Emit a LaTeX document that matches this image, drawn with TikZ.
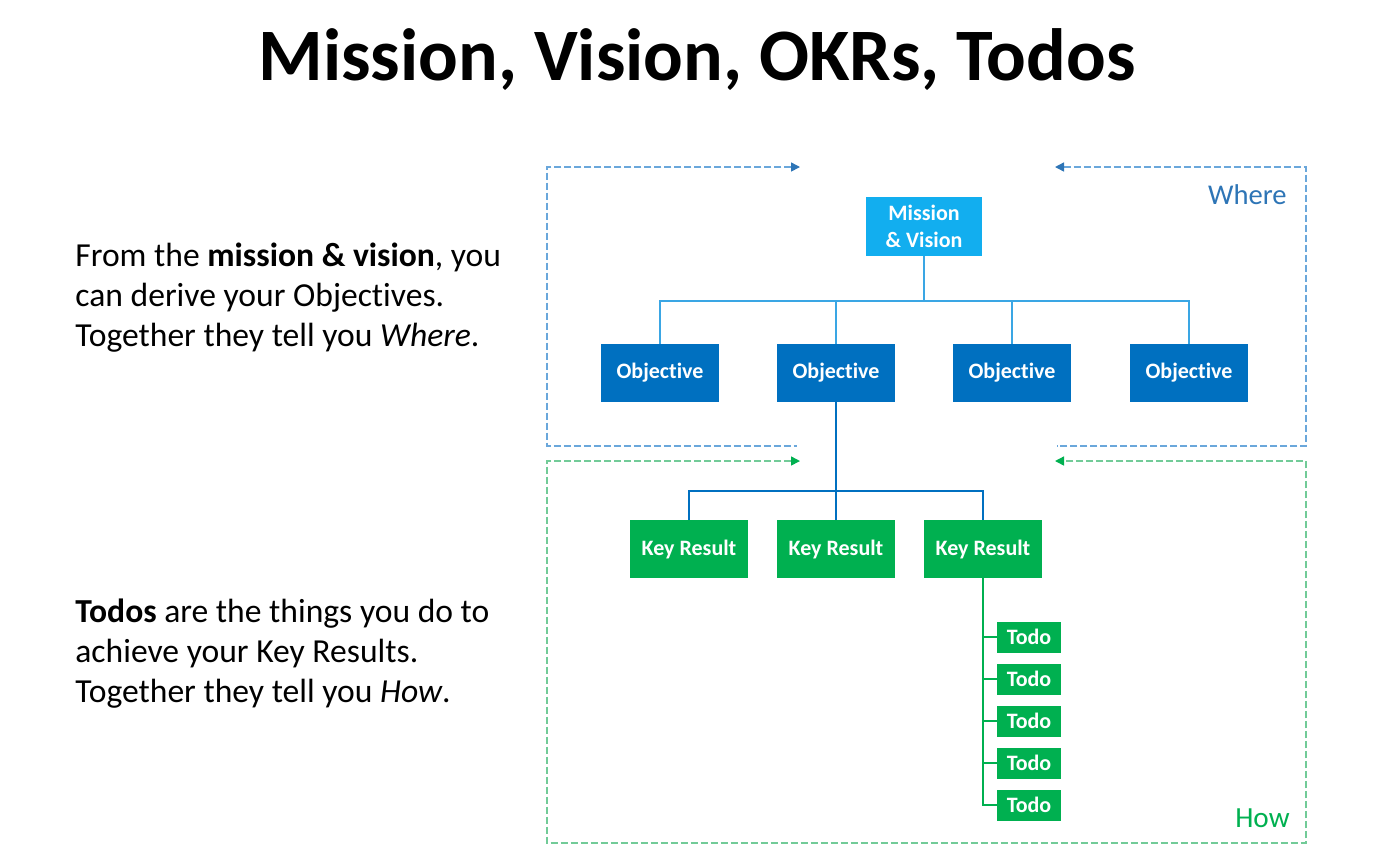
\documentclass[tikz,border=0pt]{standalone}
\usepackage{fontspec}
\setmainfont[Ligatures=NoCommon]{Carlito}
\usetikzlibrary{arrows.meta}
\definecolor{mvblue}{HTML}{12AEEF}
\definecolor{objblue}{HTML}{0070C0}
\definecolor{krgreen}{HTML}{00B050}
\definecolor{wherecol}{HTML}{2E75B6}
\definecolor{wheredashcol}{HTML}{6AA7DB}
\definecolor{howdashcol}{HTML}{72CB98}
\definecolor{mvlinecol}{HTML}{3AA6E4}

\begin{document}
\begin{tikzpicture}[
  x=0.5pt,
  y=-0.5pt,
  every node/.style={inner sep=0pt},
  box/.style={align=center, text=white, font=\fontsize{11}{13.5}\selectfont\bfseries},
  mvbox/.style={box, fill=mvblue, minimum width=58pt, minimum height=29.5pt},
  objbox/.style={box, fill=objblue, minimum width=59pt, minimum height=29pt},
  krbox/.style={box, fill=krgreen, minimum width=59pt, minimum height=29pt},
  todobox/.style={box, fill=krgreen, minimum width=32pt, minimum height=15.5pt},
  bodytext/.style={align=left, font=\fontsize{16.8}{20}\selectfont},
  mvline/.style={mvlinecol, line width=1pt},
  objline/.style={objblue, line width=1pt},
  krline/.style={krgreen, line width=1pt},
  wherebox/.style={wheredashcol, line width=0.75pt, dash pattern=on 3.5pt off 1.5pt},
  howbox/.style={howdashcol, line width=0.75pt, dash pattern=on 3.5pt off 1.5pt},
  wheretip/.style={{Triangle[length=4.5pt, width=4.5pt, color=wherecol]}-},
  howtip/.style={{Triangle[length=4.5pt, width=4.5pt, color=krgreen]}-{Triangle[length=4.5pt, width=4.5pt, color=krgreen]}}
]
  % ---- page frame ----
  \useasboundingbox (0,0) rectangle (1400,864);

  % ---- title ----
  \node[anchor=base, font=\fontsize{37}{44}\selectfont\bfseries] (title) at (697,80)
    {Mission, Vision, OKRs, Todos};

  % ---- left explanations ----
  \node[bodytext, anchor=north west] (wheretext) at (75,243)
    {From the \textbf{mission \& vision}, you\\
     can derive your Objectives.\\
     Together they tell you \textit{Where}.};
  \node[bodytext, anchor=north west] (howtext) at (75,599)
    {\textbf{Todos} are the things you do to\\
     achieve your Key Results.\\
     Together they tell you \textit{How}.};

  % ---- dashed frames ----
  \draw[wherebox, wheretip] (800,167) -- (547,167) -- (547,446) -- (797,446);
  \draw[wherebox, wheretip] (1055,167) -- (1306,167) -- (1306,446) -- (1057,446);
  \draw[howbox, howtip] (800,461) -- (547,461) -- (547,843) -- (1306,843)
    -- (1306,461) -- (1055,461);
  \node[anchor=base east, text=wherecol, font=\fontsize{14.3}{17}\selectfont] (where) at (1287,204) {Where};
  \node[anchor=base east, text=krgreen, font=\fontsize{14.6}{17}\selectfont] (how) at (1290,827) {How};

  % ---- tree ----
  \node[mvbox] (mv) at (924,226.5) {Mission\\\& Vision};
  \node[objbox] (obj1) at (660,373) {Objective};
  \node[objbox] (obj2) at (836,373) {Objective};
  \node[objbox] (obj3) at (1012,373) {Objective};
  \node[objbox] (obj4) at (1189,373) {Objective};
  \node[krbox] (kr1) at (689,549) {Key Result};
  \node[krbox] (kr2) at (836,549) {Key Result};
  \node[krbox] (kr3) at (983,549) {Key Result};
  \foreach \i in {1,...,5}
    \node[todobox] (todo\i) at (1029,{595+42*\i}) {Todo};

  \foreach \i in {1,...,4}
    \draw[mvline] (mv.south) -- ++(0,45) -| (obj\i.north);
  \foreach \i in {1,...,3}
    \draw[objline] (obj2.south) -- ++(0,89) -| (kr\i.north);
  \foreach \i in {1,...,5}
    \draw[krline] (kr3.south) |- (todo\i.west);
\end{tikzpicture}
\end{document}
